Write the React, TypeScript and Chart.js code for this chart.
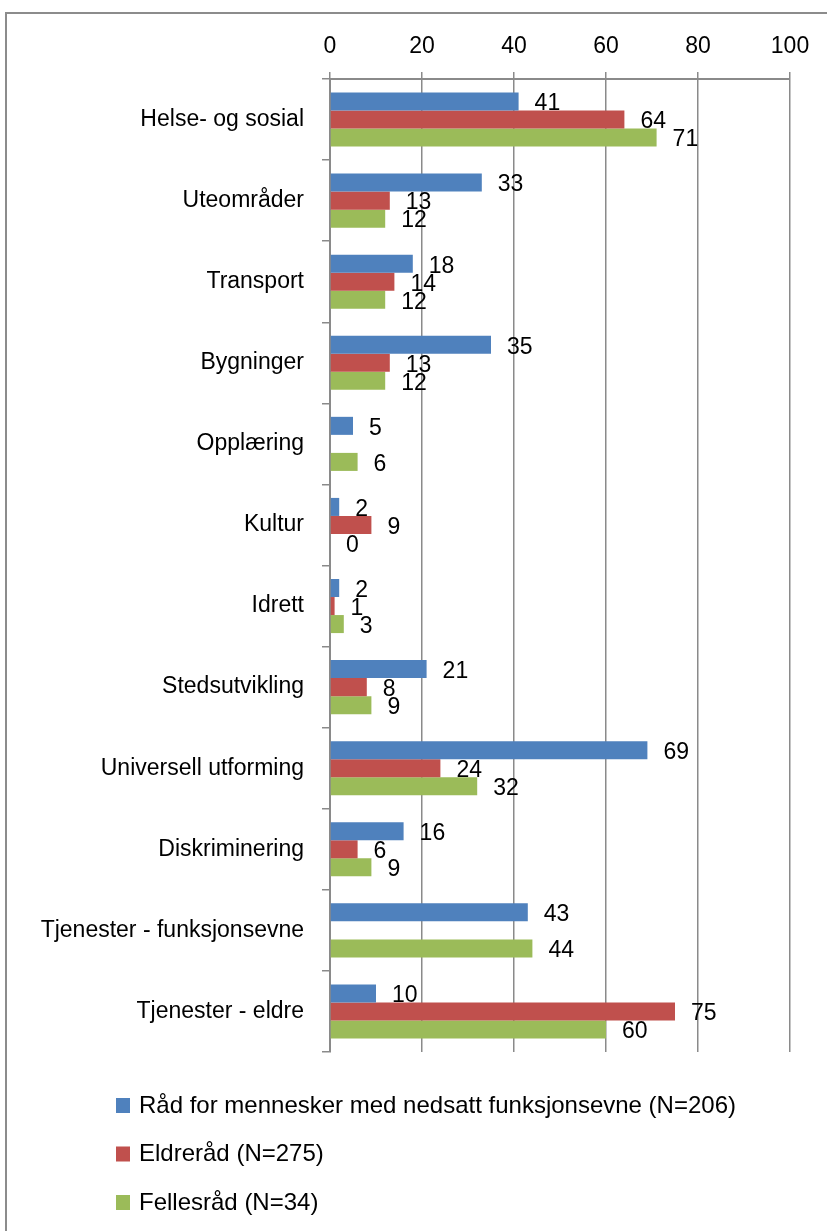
import React, { useEffect, useRef } from "react";
import { Chart, registerables } from "chart.js";

Chart.register(...registerables);

const categories = [
  "Helse- og sosial",
  "Uteområder",
  "Transport",
  "Bygninger",
  "Opplæring",
  "Kultur",
  "Idrett",
  "Stedsutvikling",
  "Universell utforming",
  "Diskriminering",
  "Tjenester - funksjonsevne",
  "Tjenester - eldre",
];

const seriesNames = [
  "Råd for mennesker med nedsatt funksjonsevne (N=206)",
  "Eldreråd (N=275)",
  "Fellesråd (N=34)",
];

const radFunksjonsevne: (number | null)[] = [41, 33, 18, 35, 5, 2, 2, 21, 69, 16, 43, 10];
const eldrerad: (number | null)[] = [64, 13, 14, 13, null, 9, 1, 8, 24, 6, null, 75];
const fellesrad: (number | null)[] = [71, 12, 12, 12, 6, 0, 3, 9, 32, 9, 44, 60];

const xTicks = [0, 20, 40, 60, 80, 100];

const colors = ["#4F81BD", "#C0504D", "#9BBB59"];
const FONT = "'Liberation Sans', Arial, sans-serif";
const GRID = "#8a8a8a";

const labelPlugin = {
  id: "valueLabels",
  afterDatasetsDraw(chart: any) {
    const ctx = chart.ctx;
    ctx.save();
    ctx.font = `23px ${FONT}`;
    ctx.fillStyle = "#000";
    ctx.textAlign = "left";
    ctx.textBaseline = "middle";
    chart.data.datasets.forEach((ds: any, di: number) => {
      const meta = chart.getDatasetMeta(di);
      meta.data.forEach((el: any, i: number) => {
        const v = ds.data[i];
        if (v === null || v === undefined) return;
        if (!isFinite(el.x) || !isFinite(el.y)) return;
        ctx.fillText(String(v), el.x + 16, el.y + 2.5);
      });
    });
    ctx.restore();
  },
};

const legendPlugin = {
  id: "stackedLegend",
  afterDraw(chart: any) {
    const ctx = chart.ctx;
    ctx.save();
    ctx.font = `24px ${FONT}`;
    ctx.textAlign = "left";
    ctx.textBaseline = "middle";
    const startY = chart.chartArea.bottom + 53;
    chart.data.datasets.forEach((ds: any, i: number) => {
      const cy = startY + i * 48.5;
      ctx.fillStyle = ds.backgroundColor;
      ctx.fillRect(116, cy - 7, 14, 15);
      ctx.fillStyle = "#000";
      ctx.fillText(ds.label, 139, cy + 1);
    });
    ctx.restore();
  },
};

export default function App() {
  const ref = useRef<HTMLCanvasElement | null>(null);

  useEffect(() => {
    document.body.style.margin = "0";
    document.body.style.overflow = "hidden";
    const canvas = ref.current;
    if (!canvas) return;
    const seriesData = [radFunksjonsevne, eldrerad, fellesrad];
    const chart = new Chart(canvas, {
      type: "bar",
      data: {
        labels: categories,
        datasets: seriesNames.map((name, i) => ({
          label: name,
          data: seriesData[i],
          backgroundColor: colors[i],
          borderWidth: 0,
          barPercentage: 1,
          categoryPercentage: 0.667,
        })),
      },
      options: {
        indexAxis: "y",
        responsive: false,
        animation: false,
        layout: { padding: { left: 0, top: 0, right: 37, bottom: 179 } },
        plugins: {
          legend: { display: false },
          tooltip: { enabled: false },
        },
        scales: {
          x: {
            position: "top",
            min: 0,
            max: 100,
            afterBuildTicks: (scale: any) => {
              scale.ticks = xTicks.map((v) => ({ value: v }));
            },
            afterFit: (scale: any) => {
              scale.height = 79;
            },
            ticks: {
              font: { family: FONT, size: 23 },
              color: "#000",
              padding: 12,
            },
            grid: {
              color: GRID,
              lineWidth: 1.5,
              tickLength: 7,
              drawTicks: true,
            },
            border: { color: GRID, width: 2 },
          },
          y: {
            afterFit: (scale: any) => {
              scale.width = 330;
            },
            ticks: {
              font: { family: FONT, size: 23 },
              color: "#000",
              padding: 18,
            },
            grid: {
              offset: true,
              drawOnChartArea: false,
              drawTicks: true,
              tickLength: 8,
              color: GRID,
              lineWidth: 1.5,
            },
            border: { color: GRID, width: 2 },
          },
        },
      },
      plugins: [labelPlugin, legendPlugin],
    } as any);
    return () => chart.destroy();
  }, []);

  return (
    <div
      style={{
        position: "absolute",
        left: 0,
        top: 0,
        width: 827,
        height: 1231,
        overflow: "hidden",
        background: "#fff",
      }}
    >
      <canvas
        ref={ref}
        width={827}
        height={1231}
        style={{ position: "absolute", left: 0, top: 0, width: 827, height: 1231 }}
      />
      <div
        style={{
          position: "absolute",
          left: 5,
          top: 12,
          width: 900,
          height: 1400,
          border: "2px solid #8c8c8c",
          boxSizing: "border-box",
          pointerEvents: "none",
        }}
      />
    </div>
  );
}
